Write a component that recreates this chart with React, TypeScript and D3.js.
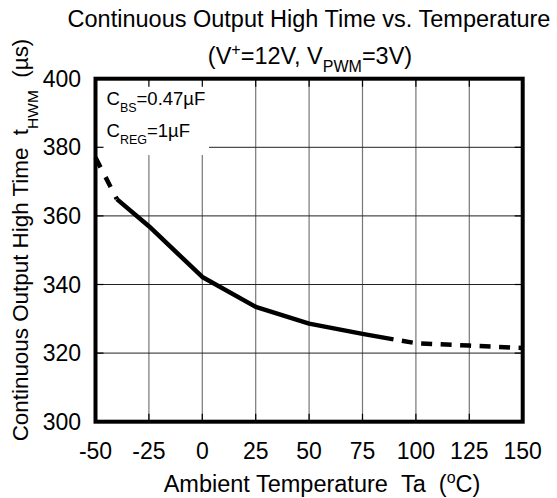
import React from "react";
import * as d3 from "d3";

const xTicks = [-50, -25, 0, 25, 50, 75, 100, 125, 150];
const yTicks = [300, 320, 340, 360, 380, 400];

// solid (guaranteed) segment
const solidT = [-40, -25, 0, 25, 50, 75, 89.5];
const solidV = [364.9, 357, 342.2, 333.5, 328.6, 325.6, 324.0];
// dashed extrapolations
const lowT = [-50, -40];
const lowV = [377, 364.9];
const highT = [89.5, 100, 125, 150];
const highV = [324.0, 322.9, 322.2, 321.5];

const W = 557;
const H = 498;
const L = 95.5, R = 522.7, T = 78.7, B = 421.7;
const FONT = "'Liberation Sans', Arial, sans-serif";

export default function App() {
  const x = d3.scaleLinear().domain([-50, 150]).range([L, R]);
  const y = d3.scaleLinear().domain([300, 400]).range([B, T]);
  const line = d3
    .line<[number, number]>()
    .x((d) => x(d[0]))
    .y((d) => y(d[1]))
    .curve(d3.curveLinear);
  const zip = (a: number[], b: number[]) => a.map((v, i) => [v, b[i]] as [number, number]);

  const innerX = xTicks.slice(1, -1);
  const innerY = yTicks.slice(1, -1);
  const tk = 8;

  return (
    <svg
      width={W}
      height={H}
      style={{ position: "absolute", left: 0, top: 0, background: "#fff" }}
      fontFamily={FONT}
    >
      <rect x={0} y={0} width={W} height={H} fill="#fff" />
      {/* grid */}
      {innerX.map((t) => (
        <line key={"gx" + t} x1={x(t)} x2={x(t)} y1={T} y2={B} stroke="#777" strokeWidth={1.2} />
      ))}
      {innerY.map((t) => (
        <line key={"gy" + t} x1={L} x2={R} y1={y(t)} y2={y(t)} stroke="#222" strokeWidth={1} />
      ))}
      {/* legend background */}
      <rect x={L + 2} y={T + 2} width={209 - L - 2} height={155 - T - 2} fill="#fff" />
      {/* ticks */}
      {innerX.map((t) => (
        <g key={"tx" + t}>
          <line x1={x(t)} x2={x(t)} y1={T} y2={T + tk} stroke="#000" strokeWidth={1.2} />
          <line x1={x(t)} x2={x(t)} y1={B} y2={B - tk} stroke="#000" strokeWidth={1.2} />
        </g>
      ))}
      {innerY.map((t) => (
        <g key={"ty" + t}>
          <line x1={L} x2={L + tk} y1={y(t)} y2={y(t)} stroke="#000" strokeWidth={1.2} />
          <line x1={R} x2={R - tk} y1={y(t)} y2={y(t)} stroke="#000" strokeWidth={1.2} />
        </g>
      ))}
      {/* curves */}
      <path d={line(zip(solidT, solidV)) || ""} fill="none" stroke="#000" strokeWidth={4.5} strokeLinejoin="round" />
      <path d={line(zip(lowT, lowV)) || ""} fill="none" stroke="#000" strokeWidth={4.5} strokeDasharray="11,11" />
      <path
        d={line(zip(highT, highV)) || ""}
        fill="none"
        stroke="#000"
        strokeWidth={4.5}
        strokeDasharray="11,8.5"
        strokeDashoffset={11}
      />
      {/* frame */}
      <rect x={L} y={T} width={R - L} height={B - T} fill="none" stroke="#000" strokeWidth={4} />

      {/* tick labels */}
      {yTicks.map((t) => (
        <text key={"ly" + t} x={81} y={y(t) + 8} textAnchor="end" fontSize={23}>
          {t}
        </text>
      ))}
      {xTicks.map((t) => (
        <text key={"lx" + t} x={x(t)} y={459} textAnchor="middle" fontSize={23}>
          {t}
        </text>
      ))}

      {/* legend */}
      <text x={106.5} y={105} fontSize={18.5}>
        C<tspan fontSize={12.5} dy={7}>BS</tspan>
        <tspan dy={-7}>=0.47µF</tspan>
      </text>
      <text x={106.5} y={137} fontSize={18.5}>
        C<tspan fontSize={12.5} dy={7}>REG</tspan>
        <tspan dy={-7}>=1µF</tspan>
      </text>

      {/* titles */}
      <text x={309} y={27} textAnchor="middle" fontSize={23.5}>
        Continuous Output High Time vs. Temperature
      </text>
      <text x={310} y={64} textAnchor="middle" fontSize={23.5}>
        (V<tspan fontSize={16} dy={-9}>+</tspan>
        <tspan dy={9}>=12V, V</tspan>
        <tspan fontSize={16} dy={8}>PWM</tspan>
        <tspan dy={-8}>=3V)</tspan>
      </text>
      <text x={322} y={492} textAnchor="middle" fontSize={23.5}>
        Ambient Temperature{"\u00a0\u00a0"}Ta{"\u00a0\u00a0"}(<tspan fontSize={16} dy={-9}>o</tspan>
        <tspan dy={9}>C)</tspan>
      </text>
      <text transform="translate(28,240) rotate(-90)" textAnchor="middle" fontSize={22.4}>
        Continuous Output High Time{"\u00a0\u00a0"}t<tspan fontSize={15.5} dy={10}>HWM</tspan>
        <tspan dy={-10}>{"\u00a0\u00a0"}(µs)</tspan>
      </text>
    </svg>
  );
}
